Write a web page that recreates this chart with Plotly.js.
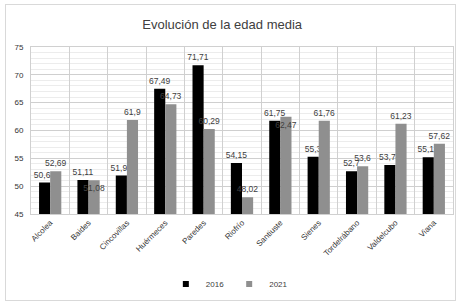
<!DOCTYPE html>
<html><head><meta charset="utf-8">
<script src="https://cdn.plot.ly/plotly-3.0.1.min.js"></script>
<style>body{margin:0;background:#fff}#wrap{position:relative;width:460px;height:304px}#frame{position:absolute;left:5px;top:4px;width:449px;height:295px;border:1px solid #d9d9d9;pointer-events:none}</style>
</head><body>
<div id="wrap"><div id="chart" style="width:460px;height:304px"></div><div id="frame"></div></div>
<script>
const categories = ["Alcolea","Baides","Cincovillas","Huérmeces","Paredes","Riofrío","Santiuste","Sienes","Tordelrábano","Valdelcubo","Viana"];
const values2016 = [50.64,51.11,51.91,67.49,71.71,54.15,61.75,55.3,52.7,53.78,55.18];
const values2021 = [52.69,51.08,61.9,64.73,60.29,48.02,62.47,61.76,53.6,61.23,57.62];
const labelPos2021 = ["outside","inside","outside","outside","outside","outside","inside","outside","outside","outside","outside"];
const fmt = v => String(v).replace('.', ',');
const lblFont = {size:8.5, color:'#404040', family:'Liberation Sans'};
const common = {type:'bar', cliponaxis:false, constraintext:'none', showlegend:false, textangle:0,
  textfont:lblFont, insidetextfont:lblFont, outsidetextfont:lblFont, insidetextanchor:'end', hoverinfo:'none'};
const data = [
  Object.assign({}, common, {name:'2016', x:categories, y:values2016, text:values2016.map(fmt), textposition:'outside', marker:{color:'#000000'}}),
  Object.assign({}, common, {name:'2021', x:categories, y:values2021, text:values2021.map(fmt), textposition:labelPos2021, marker:{color:'#8f8f8f'}}),
  {type:'scatter', mode:'markers', name:'2016', x:[null], y:[null], marker:{symbol:'square', size:6, color:'#000000'}, showlegend:true, hoverinfo:'none'},
  {type:'scatter', mode:'markers', name:'2021', x:[null], y:[null], marker:{symbol:'square', size:6, color:'#8f8f8f'}, showlegend:true, hoverinfo:'none'}
];
const layout = {
  width:460, height:304,
  margin:{l:31, r:7, t:47, b:89},
  paper_bgcolor:'rgba(0,0,0,0)', plot_bgcolor:'#fff',
  font:{family:'Liberation Sans', color:'#404040', size:8},
  title:{text:'Evolución de la edad media', x:0.483, xanchor:'center', y:0.918, yanchor:'middle', font:{size:13, color:'#404040', family:'Liberation Sans'}},
  barmode:'group', bargap:0.42, bargroupgap:0,
  showlegend:true,
  legend:{orientation:'h', x:0.47, xanchor:'center', y:-0.41, yanchor:'middle', font:{size:8}, itemwidth:30, tracegroupgap:0},
  xaxis:{type:'category', tickson:'boundaries', showgrid:true, gridcolor:'#d0d0d0', gridwidth:1, tickangle:-45, ticks:'', showline:true, linecolor:'#d0d0d0', mirror:true, tickfont:{size:8, color:'#333'}},
  yaxis:{range:[45,75], dtick:5, showgrid:true, gridcolor:'#cfcfcf', ticks:'', showline:true, linecolor:'#d0d0d0', mirror:true, tickfont:{size:8, color:'#333'}, zeroline:false, ticklabelstandoff:5,
    minor:{dtick:1, showgrid:true, gridcolor:'#ececec', ticks:''}}
};
Plotly.newPlot('chart', data, layout, {displayModeBar:false, staticPlot:true});
</script>
</body></html>
